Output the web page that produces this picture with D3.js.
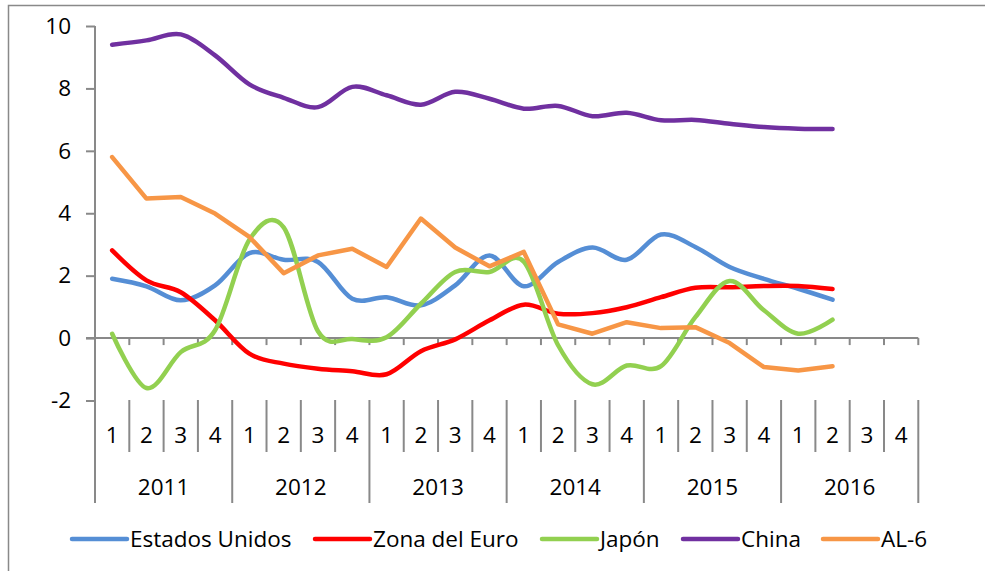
<!DOCTYPE html>
<html>
<head>
<meta charset="utf-8">
<script src="https://cdn.jsdelivr.net/npm/d3@7"></script>
<style>
  html, body { margin: 0; padding: 0; background: #ffffff; }
  svg { display: block; }
  text { font-family: "Open Sans", Lato, sans-serif; fill: #000; }
</style>
</head>
<body>
<svg id="chart" width="985" height="571"></svg>
<script>
const years = ["2011", "2012", "2013", "2014", "2015", "2016"];
const quarters = ["1", "2", "3", "4"];
const yTicks = [-2, 0, 2, 4, 6, 8, 10];

const estadosUnidos = [1.90, 1.66, 1.21, 1.69, 2.72, 2.51, 2.44, 1.26, 1.31, 1.05, 1.69, 2.65,
                       1.66, 2.44, 2.90, 2.51, 3.32, 2.92, 2.28, 1.90, 1.58, 1.23];
const zonaEuro = [2.81, 1.85, 1.47, 0.57, -0.50, -0.82, -0.98, -1.06, -1.16, -0.42, -0.04, 0.57,
                  1.07, 0.78, 0.80, 0.99, 1.31, 1.61, 1.63, 1.67, 1.67, 1.57];
const japon = [0.14, -1.60, -0.45, 0.25, 3.15, 3.55, 0.22, -0.03, 0.03, 1.10, 2.12, 2.12,
               2.45, -0.23, -1.48, -0.88, -0.90, 0.67, 1.83, 0.89, 0.14, 0.59];
const china = [9.40, 9.54, 9.73, 9.06, 8.13, 7.70, 7.40, 8.05, 7.78, 7.48, 7.89, 7.67,
               7.35, 7.44, 7.11, 7.22, 6.98, 6.99, 6.87, 6.76, 6.71, 6.70];
const al6 = [5.80, 4.47, 4.52, 3.99, 3.24, 2.08, 2.65, 2.86, 2.28, 3.83, 2.90, 2.30,
             2.76, 0.44, 0.14, 0.51, 0.32, 0.35, -0.16, -0.93, -1.04, -0.90];

const seriesNames = ["Estados Unidos", "Zona del Euro", "Japón", "China", "AL-6"];
const seriesColors = ["#558ED5", "#FF0000", "#92D050", "#7030A0", "#F79646"];
const seriesSmooth = [true, true, true, true, false];
const seriesValues = [estadosUnidos, zonaEuro, japon, china, al6];

const categories = [];
years.forEach(y => quarters.forEach(q => categories.push(y + "-" + q)));

const svg = d3.select("#chart");
const axisColor = "#898989";
const fontSize = 22.5;

// outer border (clipped at right/bottom like the reference)
svg.append("rect")
  .attr("x", 8.5).attr("y", 5.5)
  .attr("width", 1100).attr("height", 700)
  .attr("fill", "none").attr("stroke", axisColor).attr("stroke-width", 1.5);

const x = d3.scaleBand().domain(categories).range([95, 918.3]).padding(0);
const y = d3.scaleLinear().domain([-2, 10]).range([400.5, 26]);
const bw = x.bandwidth();
const cx = i => x(categories[i]) + bw / 2;

// y axis
const yAxis = d3.axisLeft(y).tickValues(yTicks).tickSize(9).tickPadding(15)
  .tickFormat(d => String(d));
const gy = svg.append("g").attr("transform", "translate(95,0)").call(yAxis);
gy.select(".domain").remove();
gy.selectAll(".tick line").attr("stroke", axisColor).attr("stroke-width", 2);
gy.selectAll(".tick text").attr("font-size", fontSize).attr("font-family", "'Open Sans', sans-serif")
  .attr("fill", "#000");
svg.append("line").attr("x1", 95).attr("x2", 95).attr("y1", y(10)).attr("y2", 503)
  .attr("stroke", axisColor).attr("stroke-width", 2);

// x axis at zero with boundary ticks
const boundaries = d3.range(categories.length + 1).map(k => 95 + k * bw);
svg.append("line").attr("x1", 86).attr("x2", boundaries[boundaries.length - 1])
  .attr("y1", y(0)).attr("y2", y(0)).attr("stroke", axisColor).attr("stroke-width", 2);
svg.append("g").selectAll("line").data(boundaries.slice(1)).join("line")
  .attr("x1", d => d).attr("x2", d => d)
  .attr("y1", y(0)).attr("y2", y(0) + 7)
  .attr("stroke", axisColor).attr("stroke-width", 2);

// multi-level category labels
svg.append("g").selectAll("line").data(boundaries).join("line")
  .attr("x1", d => d).attr("x2", d => d)
  .attr("y1", 400).attr("y2", (d, k) => (k % 4 === 0 ? 503 : 452))
  .attr("stroke", axisColor).attr("stroke-width", 2);

svg.append("g").selectAll("text").data(categories).join("text")
  .attr("x", (d, i) => cx(i)).attr("y", 443)
  .attr("text-anchor", "middle").attr("font-size", fontSize)
  .text(d => d.split("-")[1]);

svg.append("g").selectAll("text").data(years).join("text")
  .attr("x", (d, j) => (x(d + "-1") + x(d + "-4") + bw) / 2).attr("y", 495)
  .attr("text-anchor", "middle").attr("font-size", fontSize)
  .text(d => d);

// series lines
seriesValues.forEach((vals, s) => {
  const line = d3.line()
    .x((d, i) => cx(i))
    .y(d => y(d))
    .curve(seriesSmooth[s] ? d3.curveCardinal.tension(0) : d3.curveLinear);
  svg.append("path").datum(vals)
    .attr("d", line)
    .attr("fill", "none")
    .attr("stroke", seriesColors[s])
    .attr("stroke-width", 4.5)
    .attr("stroke-linecap", "round")
    .attr("stroke-linejoin", "round");
});

// legend
const legendX = [72, 315, 542, 683, 823];
const lg = svg.append("g");
seriesNames.forEach((name, s) => {
  lg.append("line")
    .attr("x1", legendX[s]).attr("x2", legendX[s] + 55)
    .attr("y1", 539).attr("y2", 539)
    .attr("stroke", seriesColors[s]).attr("stroke-width", 4.5)
    .attr("stroke-linecap", "round");
  lg.append("text")
    .attr("x", legendX[s] + 58).attr("y", 547)
    .attr("font-size", fontSize)
    .text(name);
});
</script>
</body>
</html>
